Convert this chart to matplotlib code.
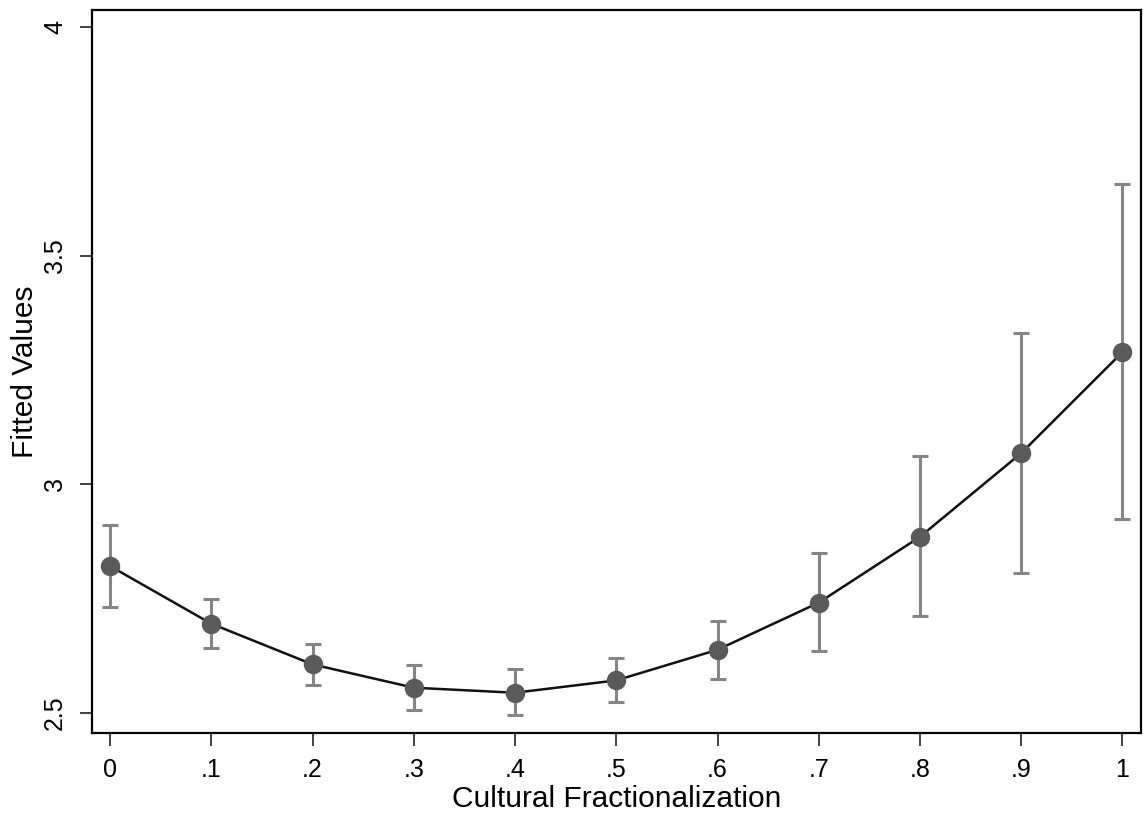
import numpy as np
import matplotlib
matplotlib.use('Agg')
import matplotlib.pyplot as plt

# data
frac = [0.0, 0.1, 0.2, 0.3, 0.4, 0.5, 0.6, 0.7, 0.8, 0.9, 1.0]
fitted = [2.821, 2.695, 2.606, 2.555, 2.544, 2.571, 2.638, 2.741, 2.885, 3.068, 3.289]
ci_low = [2.732, 2.642, 2.561, 2.506, 2.495, 2.524, 2.575, 2.635, 2.712, 2.806, 2.923]
ci_high = [2.910, 2.748, 2.651, 2.604, 2.595, 2.620, 2.701, 2.849, 3.061, 3.330, 3.656]

x_ticks = [0.0, 0.1, 0.2, 0.3, 0.4, 0.5, 0.6, 0.7, 0.8, 0.9, 1.0]
x_labels = ['0', '.1', '.2', '.3', '.4', '.5', '.6', '.7', '.8', '.9', '1']
y_ticks = [2.5, 3.0, 3.5, 4.0]
y_labels = ['2.5', '3', '3.5', '4']

plt.rcParams['font.family'] = ['Liberation Sans', 'DejaVu Sans']

fig = plt.figure(figsize=(11.43, 8.22), dpi=100)
ax = fig.add_axes([0.0805, 0.1083, 0.9175, 0.8795])

fitted = np.array(fitted)
yerr = np.array([fitted - np.array(ci_low), np.array(ci_high) - fitted])

# error bars
ax.errorbar(frac, fitted, yerr=yerr, fmt='none', ecolor='#858585',
            elinewidth=2.2, capsize=6, capthick=2.2, zorder=2)
# connecting line + markers
ax.plot(frac, fitted, color='#111111', linewidth=1.8, zorder=3)
ax.plot(frac, fitted, 'o', color='#5a5a5a', markersize=13, zorder=4)

ax.set_xlim(-0.0178, 1.018)
ax.set_ylim(2.456, 4.037)

ax.set_xticks(x_ticks)
ax.set_xticklabels(x_labels, fontsize=18)
ax.set_yticks(y_ticks)
ax.set_yticklabels(y_labels, fontsize=18, rotation=90, va='center')

ax.tick_params(axis='both', direction='out', length=9, width=1.3, color='#333333', pad=9)

ax.set_xlabel('Cultural Fractionalization', fontsize=21.5, labelpad=2)
ax.set_ylabel('Fitted Values', fontsize=21.5, labelpad=3)

for s in ax.spines.values():
    s.set_linewidth(1.6)
    s.set_color('black')

fig.savefig('out.png', dpi=100)
